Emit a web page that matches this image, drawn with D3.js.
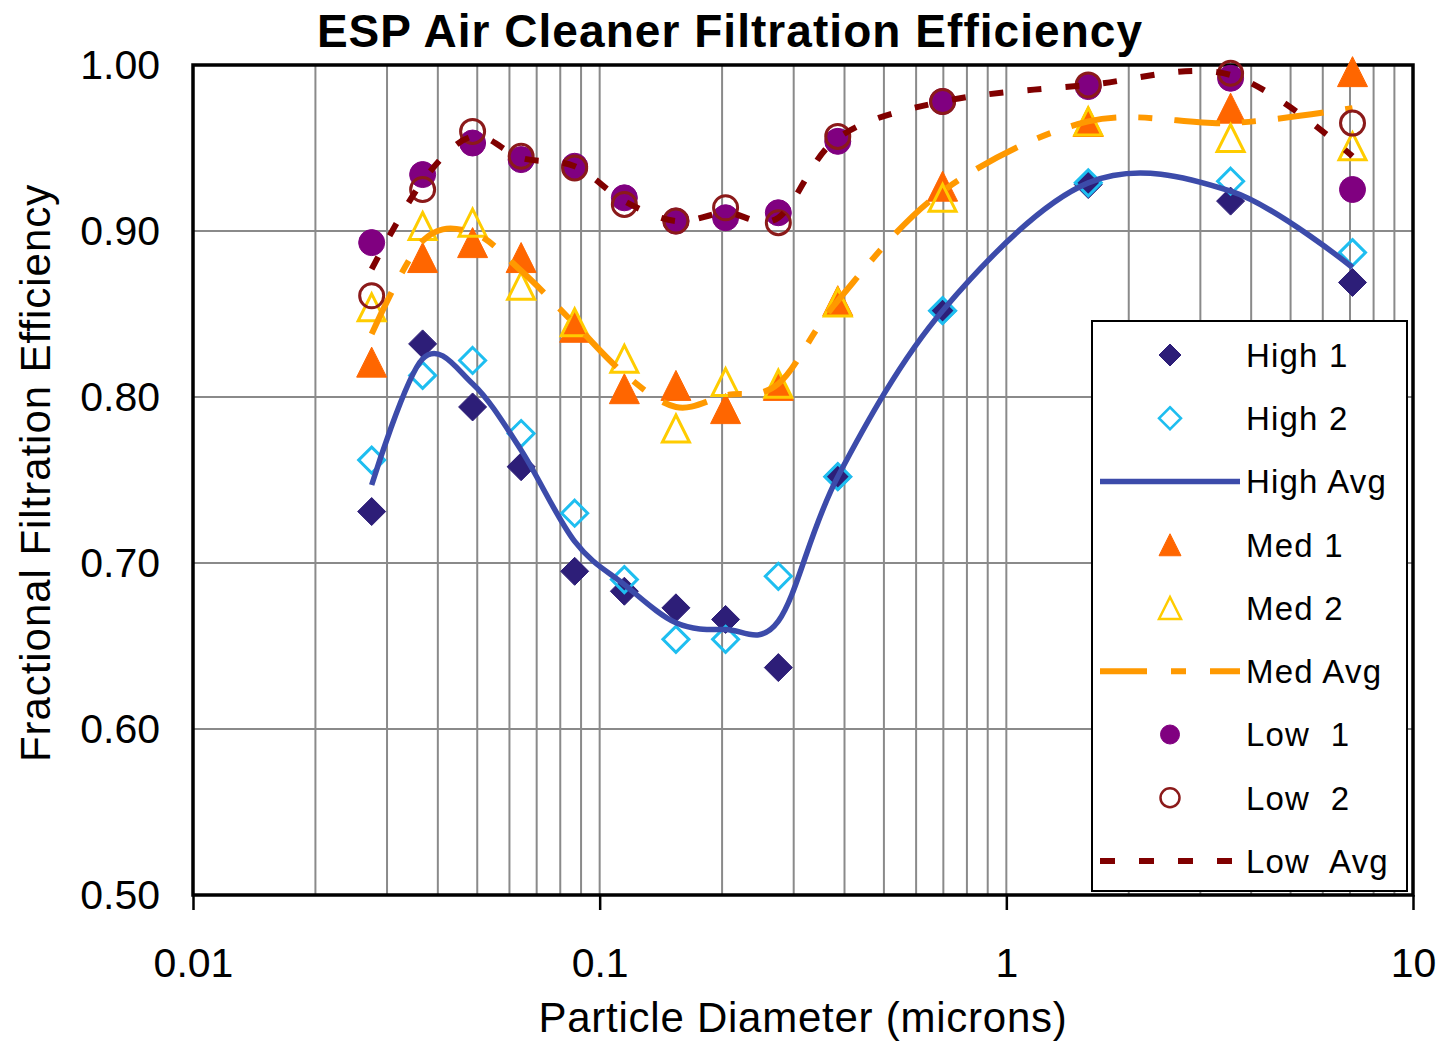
<!DOCTYPE html>
<html>
<head>
<meta charset="utf-8">
<title>ESP Air Cleaner Filtration Efficiency</title>
<script src="https://cdn.jsdelivr.net/npm/d3@7"></script>
<style>
  body { margin: 0; background: #fff; }
  svg { display: block; }
  text { font-family: "Liberation Sans", Arial, sans-serif; fill: #000; }
</style>
</head>
<body>
<svg id="chart" width="1443" height="1041"></svg>
<script>
// Particle diameters (microns) of the measurement channels
const diameters = [0.0275, 0.0367, 0.0487, 0.0641, 0.0868, 0.115, 0.154, 0.204, 0.275, 0.385, 0.697, 1.59, 3.56, 7.10];

// Fractional filtration efficiency per fan setting and test
const high1 = [0.731, 0.832, 0.794, 0.758, 0.695, 0.683, 0.673, 0.666, 0.637, 0.752, 0.852, 0.928, 0.918, 0.869];
const high2 = [0.762, 0.813, 0.822, 0.778, 0.730, 0.690, 0.654, 0.654, 0.692, 0.752, 0.852, 0.929, 0.930, 0.887];
const highAvg = [0.747, 0.823, 0.808, 0.768, 0.713, 0.687, 0.664, 0.660, 0.665, 0.752, 0.852, 0.929, 0.924, 0.878];

const med1 = [0.821, 0.884, 0.893, 0.884, 0.842, 0.805, 0.807, 0.793, 0.807, 0.858, 0.927, 0.966, 0.974, 0.996];
const med2 = [0.854, 0.903, 0.905, 0.867, 0.845, 0.823, 0.781, 0.809, 0.808, 0.857, 0.920, 0.966, 0.956, 0.951];
const medAvg = [0.838, 0.894, 0.899, 0.876, 0.844, 0.814, 0.794, 0.801, 0.808, 0.858, 0.924, 0.966, 0.965, 0.974];

const low1 = [0.893, 0.934, 0.953, 0.943, 0.939, 0.920, 0.906, 0.908, 0.911, 0.954, 0.978, 0.987, 0.992, 0.925];
const low2 = [0.861, 0.925, 0.960, 0.945, 0.938, 0.916, 0.906, 0.914, 0.905, 0.957, 0.978, 0.988, 0.995, 0.965];
const lowAvg = [0.877, 0.930, 0.957, 0.944, 0.939, 0.918, 0.906, 0.911, 0.908, 0.956, 0.978, 0.988, 0.994, 0.945];

// Axis ticks
const xTickValues = [0.01, 0.1, 1, 10];
const xTickLabels = ["0.01", "0.1", "1", "10"];
const yTickValues = [0.5, 0.6, 0.7, 0.8, 0.9, 1.0];

const titleText = "ESP Air Cleaner Filtration Efficiency";
const xTitle = "Particle Diameter (microns)";
const yTitle = "Fractional Filtration Efficiency";

// ---- layout ----
const plot = { left: 193, right: 1413, top: 65, bottom: 895 };
const svg = d3.select("#chart");

const x = d3.scaleLog().domain([0.01, 10]).range([plot.left, plot.right]);
const y = d3.scaleLinear().domain([0.5, 1]).range([plot.bottom, plot.top]);

// Marker shapes centred on (0,0)
const shapes = {
  diamond: s => { const r = s / 2; return `M0,${-r}L${r},0L0,${r}L${-r},0Z`; },
  triangle: s => { const h = s / 2; return `M0,${-h}L${h},${h}L${-h},${h}Z`; },
  circle: s => { const r = s / 2; return `M${r},0A${r},${r} 0 1,1 ${-r},0A${r},${r} 0 1,1 ${r},0Z`; }
};

const series = [
  { name: "High 1", values: high1, kind: "marker", shape: "diamond", size: 28, fill: "#2D1E78", stroke: "#2D1E78", sw: 1 },
  { name: "High 2", values: high2, kind: "marker", shape: "diamond", size: 26, fill: "none", stroke: "#1EBEF0", sw: 3 },
  { name: "High Avg", values: highAvg, kind: "line", stroke: "#3C4BAA", sw: 5.5, dash: null },
  { name: "Med 1", values: med1, kind: "marker", shape: "triangle", size: 30, fill: "#FF6600", stroke: "#FF6600", sw: 1 },
  { name: "Med 2", values: med2, kind: "marker", shape: "triangle", size: 27, fill: "none", stroke: "#FFCC00", sw: 3 },
  { name: "Med Avg", values: medAvg, kind: "line", stroke: "#FF9900", sw: 6, dash: "46,22,14,22" },
  { name: "Low 1", values: low1, kind: "marker", shape: "circle", size: 26, fill: "#800080", stroke: "#800080", sw: 1 },
  { name: "Low 2", values: low2, kind: "marker", shape: "circle", size: 24, fill: "none", stroke: "#8B1A1A", sw: 3 },
  { name: "Low Avg", values: lowAvg, kind: "line", stroke: "#800000", sw: 6, dash: "14,24" }
];

// ---- grid ----
const grid = svg.append("g").attr("stroke", "#8a8a8a").attr("stroke-width", 2);
const xGrid = x.ticks().filter(v => v > 0.0101 && v < 9.99);
grid.selectAll("line.xg").data(xGrid).join("line")
  .attr("x1", d => x(d)).attr("x2", d => x(d))
  .attr("y1", plot.top).attr("y2", plot.bottom);
grid.selectAll("line.yg").data(yTickValues.slice(1, -1)).join("line")
  .attr("x1", plot.left).attr("x2", plot.right)
  .attr("y1", d => y(d)).attr("y2", d => y(d));

// ---- axes ----
const xAxis = svg.append("g")
  .attr("transform", `translate(0,${plot.bottom})`)
  .call(d3.axisBottom(x).tickValues(xTickValues).tickSize(15).tickPadding(38)
    .tickFormat((d, i) => xTickLabels[i]));
xAxis.select(".domain").remove();
xAxis.selectAll(".tick line").attr("stroke", "#000").attr("stroke-width", 2.5);
xAxis.selectAll("text").attr("font-size", 41).attr("fill", "#000");

const yAxis = svg.append("g")
  .attr("transform", `translate(${plot.left},0)`)
  .call(d3.axisLeft(y).tickValues(yTickValues).tickSize(0).tickPadding(33)
    .tickFormat(d3.format(".2f")));
yAxis.select(".domain").remove();
yAxis.selectAll("text").attr("font-size", 41).attr("fill", "#000");

// plot frame
svg.append("rect")
  .attr("x", plot.left).attr("y", plot.top)
  .attr("width", plot.right - plot.left).attr("height", plot.bottom - plot.top)
  .attr("fill", "none").attr("stroke", "#000").attr("stroke-width", 3.5);

// ---- series ----
const lineGen = d3.line()
  .x(d => x(d[0])).y(d => y(d[1]))
  .curve(d3.curveCardinal.tension(0));

const marks = svg.append("g");
series.forEach(s => {
  const pts = diameters.map((d, i) => [d, s.values[i]]);
  if (s.kind === "line") {
    marks.append("path")
      .datum(pts)
      .attr("d", lineGen)
      .attr("fill", "none")
      .attr("stroke", s.stroke)
      .attr("stroke-width", s.sw)
      .attr("stroke-dasharray", s.dash)
      .attr("stroke-linecap", "butt");
  } else {
    marks.append("g").selectAll("path").data(pts).join("path")
      .attr("transform", d => `translate(${x(d[0])},${y(d[1])})`)
      .attr("d", shapes[s.shape](s.size))
      .attr("fill", s.fill)
      .attr("stroke", s.stroke)
      .attr("stroke-width", s.sw);
  }
});

// ---- legend ----
const legend = svg.append("g");
legend.append("rect")
  .attr("x", 1092).attr("y", 321).attr("width", 315).attr("height", 570)
  .attr("fill", "#fff").attr("stroke", "#000").attr("stroke-width", 2);

const legendStep = 63.25;
series.forEach((s, i) => {
  const cy = 355 + i * legendStep;
  const g = legend.append("g");
  if (s.kind === "line") {
    g.append("line")
      .attr("x1", 1100).attr("x2", 1240).attr("y1", cy).attr("y2", cy)
      .attr("stroke", s.stroke).attr("stroke-width", s.sw)
      .attr("stroke-dasharray", s.name === "Med Avg" ? "47,24,15,24" : (s.dash ? "15,24" : null));
  } else {
    g.append("path")
      .attr("transform", `translate(1170,${cy})`)
      .attr("d", shapes[s.shape](s.shape === "circle" ? 19 : 22))
      .attr("fill", s.fill)
      .attr("stroke", s.stroke)
      .attr("stroke-width", s.fill === "none" ? 2.5 : 1);
  }
  g.append("text")
    .attr("x", 1246).attr("y", cy)
    .attr("dy", "0.36em")
    .attr("font-size", 33)
    .attr("letter-spacing", 1.2)
    .text(s.name.replace("Low ", "Low\u00a0 "));
});

// ---- titles ----
svg.append("text")
  .attr("x", 730).attr("y", 47)
  .attr("text-anchor", "middle")
  .attr("font-size", 46).attr("font-weight", "bold")
  .attr("letter-spacing", 1.05)
  .text(titleText);

svg.append("text")
  .attr("x", 803).attr("y", 1032)
  .attr("text-anchor", "middle")
  .attr("font-size", 42)
  .attr("letter-spacing", 0.75)
  .text(xTitle);

svg.append("text")
  .attr("transform", "translate(50,473) rotate(-90)")
  .attr("text-anchor", "middle")
  .attr("font-size", 42)
  .attr("letter-spacing", 0.95)
  .text(yTitle);
</script>
</body>
</html>
